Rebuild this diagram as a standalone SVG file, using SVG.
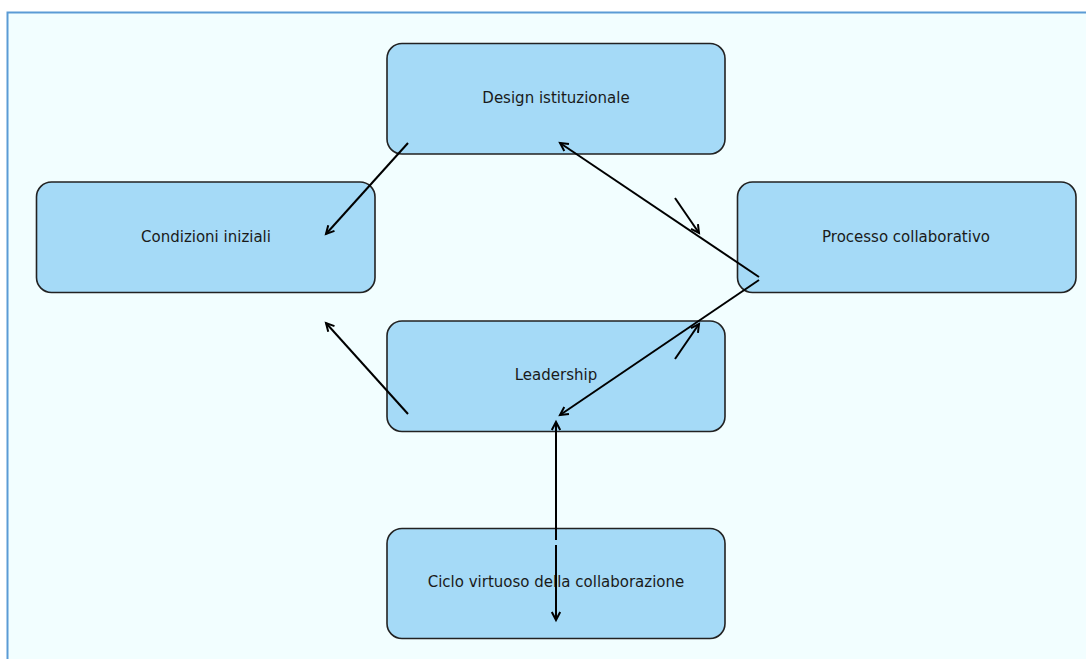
<svg xmlns="http://www.w3.org/2000/svg" width="1086" height="659" viewBox="0 0 1086 659">
<style>
.node rect{fill:#a5daf7;stroke:#222;stroke-width:1.6}
.node text{font-family:"DejaVu Sans",sans-serif;font-size:15px;fill:#1a1a1a;text-anchor:middle;dominant-baseline:central}
.conn line{stroke:#000;stroke-width:2;marker-end:url(#ah)}
</style>
<defs>
<marker id="ah" markerUnits="userSpaceOnUse" markerWidth="12" markerHeight="12" refX="9" refY="6" orient="auto">
<path d="M1,1.8 L9,6 L1,10.2" fill="none" stroke="#000" stroke-width="2"/>
</marker>
</defs>
<rect x="0" y="0" width="1086" height="659" fill="#ffffff"/>
<rect x="7.5" y="12.5" width="1100" height="680" fill="#f2feff" stroke="#5b9bd5" stroke-width="2"/>
<g id="n-design" class="node"><rect x="387" y="43.5" width="338" height="110.5" rx="15"/><text x="556" y="98">Design istituzionale</text></g>
<g id="n-condizioni" class="node"><rect x="36.5" y="182" width="338.5" height="110.5" rx="15"/><text x="206" y="237">Condizioni iniziali</text></g>
<g id="n-processo" class="node"><rect x="737.5" y="182" width="338.5" height="110.5" rx="15"/><text x="906" y="237">Processo collaborativo</text></g>
<g id="n-leadership" class="node"><rect x="387" y="321" width="338" height="110.5" rx="15"/><text x="556" y="375">Leadership</text></g>
<g id="n-ciclo" class="node"><rect x="387" y="528.5" width="338" height="110" rx="15"/><text x="556" y="582">Ciclo virtuoso della collaborazione</text></g>
<g id="connectors" class="conn">
<line x1="408" y1="143" x2="326" y2="234"/>
<line x1="759" y1="277" x2="560" y2="143"/>
<line x1="675" y1="198" x2="699" y2="233"/>
<line x1="759" y1="280" x2="560" y2="415"/>
<line x1="675" y1="359" x2="699" y2="324"/>
<line x1="408" y1="414" x2="326" y2="323"/>
<line x1="556" y1="540" x2="556" y2="422"/>
<line x1="556" y1="545" x2="556" y2="620"/>
</g>
</svg>
